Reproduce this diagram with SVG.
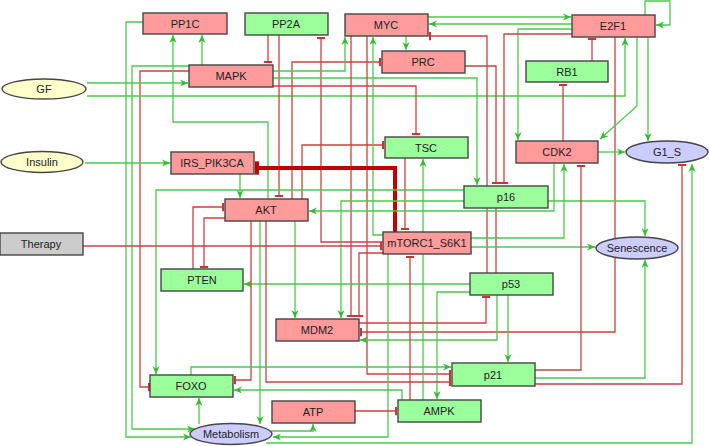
<svg xmlns="http://www.w3.org/2000/svg" width="709" height="446" viewBox="0 0 709 446">
<style>
.n rect,.n ellipse{stroke:#454545;stroke-width:1.4}
.r rect{fill:#ff9b9b}
.g rect{fill:#9bff9b}
.y ellipse{fill:#ffffcc}
.b ellipse{fill:#ccccff}
.gr rect{fill:#cccccc}
text{font-family:"Liberation Sans",Arial,sans-serif;font-size:11px;fill:#222;text-anchor:middle;dominant-baseline:central}
#edges path{fill:none;stroke-width:1.3}
#edges .a{stroke:#4cc84c;marker-end:url(#ah)}
#edges .i{stroke:#cc4040;marker-end:url(#tb)}
#edges .p{stroke:#cc4040}
#edges .ti{stroke:#c00000;stroke-width:4;marker-end:url(#tbb)}
</style>
<defs>
<marker id="ah" viewBox="0 0 10 10" refX="10" refY="5" markerWidth="8" markerHeight="8" markerUnits="userSpaceOnUse" orient="auto"><path d="M0,0.5 L10,5 L0,9.5 L3,5 z" fill="#33bb33"/></marker>
<marker id="tb" viewBox="0 0 3 10" refX="1.5" refY="5" markerWidth="2.5" markerHeight="9" markerUnits="userSpaceOnUse" orient="auto"><rect x="0" y="0" width="3" height="10" fill="#cc3333"/></marker>
<marker id="tbb" viewBox="0 0 3 10" refX="1.5" refY="5" markerWidth="4" markerHeight="16" markerUnits="userSpaceOnUse" orient="auto"><rect x="0" y="0" width="3" height="10" fill="#c00000"/></marker>
</defs>
<rect width="709" height="446" fill="#fff"/>
<g id="edges">
<path class="a" d="M143,22 H126 V437 H191"/>
<path class="a" d="M189,66 H132 V429 H195"/>
<path class="i" d="M189,71 H140 V387 H149"/>
<path class="a" d="M87,83 H188"/>
<path class="a" d="M87,96 H625 V38"/>
<path class="a" d="M268,199 V122 H173 V35"/>
<path class="a" d="M202,65 V35"/>
<path class="i" d="M268,35 V62"/>
<path class="i" d="M279,35 V196"/>
<path class="i" d="M292,199 V62 H380"/>
<path class="i" d="M302,199 V145 H383"/>
<path class="i" d="M383,242 H321 V38"/>
<path class="a" d="M273,71 H345 V37"/>
<path class="a" d="M273,78 H477 V185"/>
<path class="i" d="M273,86 H416 V134"/>
<path class="i" d="M351,36 V316"/>
<path class="i" d="M383,253 H359 V316"/>
<path class="i" d="M367,36 V374 H450"/>
<path class="a" d="M383,235 H373 V37"/>
<path class="a" d="M406,36 V50"/>
<path class="a" d="M428,17 H571"/>
<path class="a" d="M572,24 H429"/>
<path class="a" d="M572,29 H518 V140"/>
<path class="i" d="M572,34 H504 V183"/>
<path class="i" d="M487,273 V36 H430"/>
<path class="i" d="M465,66 H496 V183"/>
<path class="p" d="M496,208 V273"/>
<path class="i" d="M592,61 V39"/>
<path class="i" d="M563,141 V85"/>
<path class="i" d="M615,37 V332 H361"/>
<path class="a" d="M637,37 V106 L600,139"/>
<path class="a" d="M648,37 V141"/>
<path class="a" d="M645,15 V1 H670 V25 H656"/>
<path class="a" d="M598,152 H625"/>
<path class="i" d="M405,158 V229"/>
<path class="ti" d="M395,232 V168 H257"/>
<path class="a" d="M423,400 V159"/>
<path class="a" d="M85,163 H170"/>
<path class="a" d="M240,174 V198"/>
<path class="a" d="M464,190 H156 V374"/>
<path class="a" d="M464,201 H341 V318"/>
<path class="a" d="M554,163 V211 H309"/>
<path class="a" d="M471,238 H564 V164"/>
<path class="a" d="M548,201 H645 V236"/>
<path class="a" d="M471,247 H595"/>
<path class="i" d="M535,370 H581 V166"/>
<path class="i" d="M535,384 H682 V165"/>
<path class="a" d="M535,378 H645 V260"/>
<path class="a" d="M266,443 H692 V164"/>
<path class="a" d="M470,284 H244"/>
<path class="a" d="M470,292 H437 V399"/>
<path class="i" d="M359,323 H486 V297"/>
<path class="a" d="M497,295 V340 H360"/>
<path class="a" d="M508,295 V362"/>
<path class="i" d="M251,221 V380 H235"/>
<path class="i" d="M266,221 V382 H450"/>
<path class="a" d="M260,221 V424"/>
<path class="a" d="M295,221 V318"/>
<path class="i" d="M193,269 V207 H223"/>
<path class="i" d="M225,218 H204 V267"/>
<path class="a" d="M191,375 V367 H451"/>
<path class="a" d="M402,400 V390 H234"/>
<path class="i" d="M410,400 V257"/>
<path class="a" d="M388,254 V437 H273"/>
<path class="i" d="M355,411 H396"/>
<path class="a" d="M271,431 H313 V424"/>
<path class="a" d="M199,424 V398"/>
<path class="i" d="M83,246 H381"/>
</g>
<g id="PP1C" class="n r"><rect x="143" y="13" width="84" height="21"/><text x="185" y="24">PP1C</text></g>
<g id="PP2A" class="n g"><rect x="245" y="13" width="83" height="22"/><text x="286" y="24">PP2A</text></g>
<g id="MYC" class="n r"><rect x="345" y="14" width="83" height="22"/><text x="386" y="25">MYC</text></g>
<g id="E2F1" class="n r"><rect x="572" y="15" width="83" height="22"/><text x="613" y="26">E2F1</text></g>
<g id="PRC" class="n r"><rect x="382" y="51" width="83" height="22"/><text x="423" y="62">PRC</text></g>
<g id="RB1" class="n g"><rect x="526" y="61" width="82" height="21"/><text x="567" y="72">RB1</text></g>
<g id="MAPK" class="n r"><rect x="189" y="65" width="84" height="22"/><text x="231" y="76">MAPK</text></g>
<g id="GF" class="n y"><ellipse cx="44" cy="89" rx="42" ry="10"/><text x="44" y="89">GF</text></g>
<g id="Insulin" class="n y"><ellipse cx="42" cy="162" rx="41" ry="10.5"/><text x="42" y="162">Insulin</text></g>
<g id="IRS_PIK3CA" class="n r"><rect x="171" y="152" width="83" height="22"/><text x="212" y="163">IRS_PIK3CA</text></g>
<g id="TSC" class="n g"><rect x="385" y="137" width="83" height="21"/><text x="426" y="148">TSC</text></g>
<g id="CDK2" class="n r"><rect x="516" y="141" width="82" height="22"/><text x="557" y="152">CDK2</text></g>
<g id="G1_S" class="n b"><ellipse cx="667" cy="152" rx="41" ry="11"/><text x="667" y="152">G1_S</text></g>
<g id="AKT" class="n r"><rect x="225" y="199" width="83" height="22"/><text x="266" y="210">AKT</text></g>
<g id="p16" class="n g"><rect x="464" y="186" width="84" height="22"/><text x="506" y="197">p16</text></g>
<g id="Therapy" class="n gr"><rect x="0" y="233" width="83" height="22"/><text x="41" y="244">Therapy</text></g>
<g id="mTORC1_S6K1" class="n r"><rect x="383" y="232" width="88" height="22"/><text x="427" y="243">mTORC1_S6K1</text></g>
<g id="Senescence" class="n b"><ellipse cx="637" cy="248" rx="41" ry="11"/><text x="637" y="248">Senescence</text></g>
<g id="PTEN" class="n g"><rect x="161" y="269" width="82" height="22"/><text x="202" y="280">PTEN</text></g>
<g id="p53" class="n g"><rect x="470" y="273" width="83" height="22"/><text x="511" y="284">p53</text></g>
<g id="MDM2" class="n r"><rect x="276" y="319" width="83" height="22"/><text x="317" y="330">MDM2</text></g>
<g id="p21" class="n g"><rect x="452" y="363" width="83" height="23"/><text x="493" y="375">p21</text></g>
<g id="FOXO" class="n g"><rect x="150" y="375" width="83" height="22"/><text x="191" y="386">FOXO</text></g>
<g id="ATP" class="n r"><rect x="272" y="401" width="83" height="22"/><text x="313" y="412">ATP</text></g>
<g id="AMPK" class="n g"><rect x="398" y="400" width="83" height="22"/><text x="439" y="411">AMPK</text></g>
<g id="Metabolism" class="n b"><ellipse cx="231" cy="434" rx="41" ry="10.5"/><text x="231" y="434">Metabolism</text></g>
</svg>
